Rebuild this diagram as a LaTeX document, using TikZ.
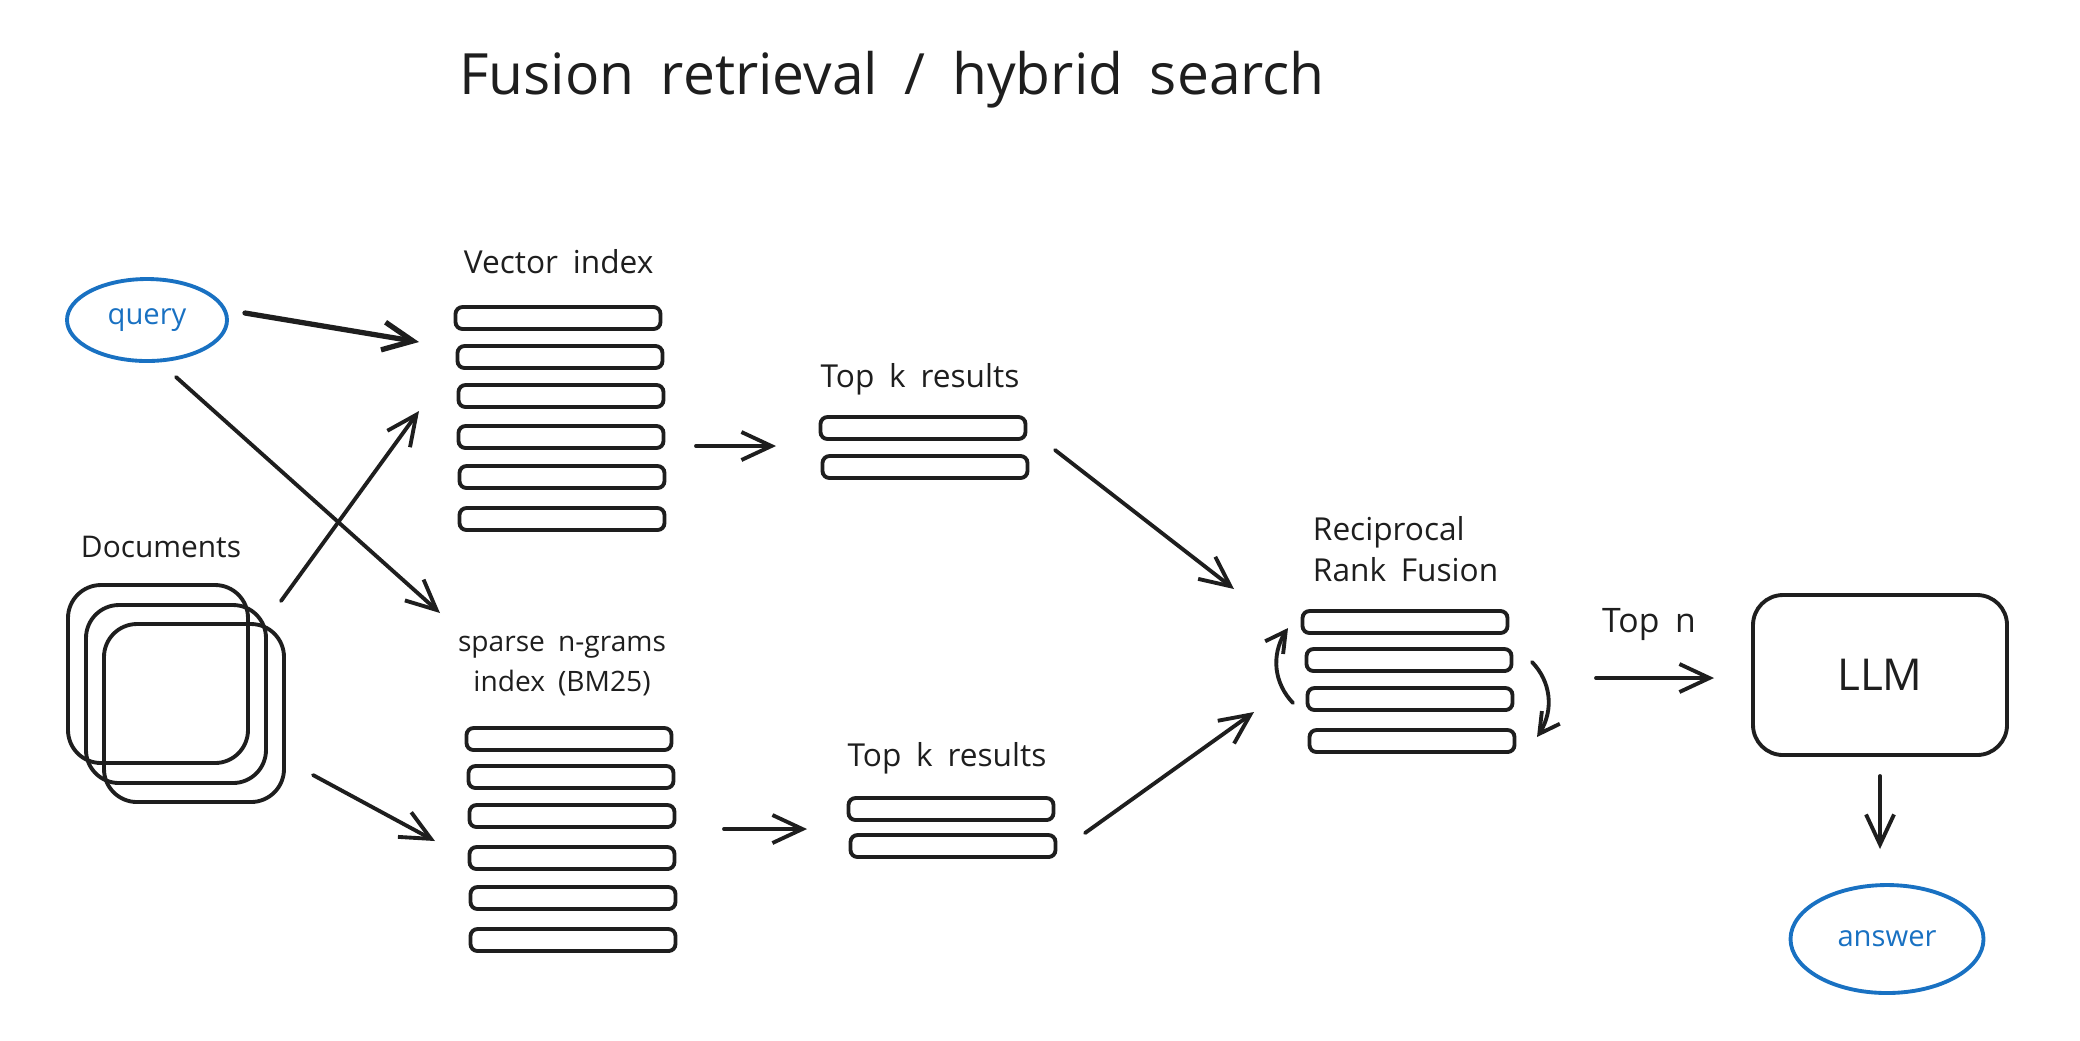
\documentclass[tikz,border=0pt]{standalone}
\usepackage{fontspec}
\setmainfont[WordSpace=1.8]{Open Sans}
\usetikzlibrary{arrows.meta}
\usetikzlibrary{bending}
\usetikzlibrary{shapes.geometric}

\definecolor{ink}{HTML}{1E1E1E}
\definecolor{inkblue}{HTML}{1971C2}

\begin{document}
\begin{tikzpicture}[x=0.1mm,y=-0.1mm,line width=1.1pt,color=ink,
    bar/.style={draw,rounded corners=0.7mm,minimum width=20.5mm,minimum height=2.2mm,inner sep=0pt},
    docbox/.style={draw,rounded corners=3.3mm,minimum width=18mm,minimum height=17.8mm,inner sep=0pt},
    bubble/.style={draw=inkblue,text=inkblue,ellipse,inner sep=0pt,font=\fontsize{8.3}{10}\selectfont},
    lbl/.style={inner sep=0pt,font=\fontsize{9}{11.5}\selectfont},
    arr/.style={-{Straight Barb[length=3mm,width=2.8mm]},line cap=round}]
            \useasboundingbox (0,0) rectangle (2080,1040);

            \node[font=\fontsize{16.2}{19}\selectfont] (title) at (892,80) {Fusion retrieval / hybrid search};

            % inputs
            \node[bubble,minimum width=16mm,minimum height=8.2mm] (query) at (147,320) {query};
            \node[lbl,font=\fontsize{8.5}{11}\selectfont] (docs) at (161,547) {Documents};
            \node[docbox] (doc1) at (158,674) {};
            \node[docbox] (doc2) at (176,694) {};
            \node[docbox] (doc3) at (194,713) {};

            % the two indexes
            \node[lbl,anchor=west] (vec) at (462,262) {Vector index};
            \foreach \i/\x/\y in {1/558/318,2/560/357,3/561/396,4/561/437,5/562/477,6/562/519}
                \node[bar] (v\i) at (\x,\y) {};
            \node[lbl,align=center,font=\fontsize{8}{11.5}\selectfont] (bm) at (562,666) {sparse n-grams\\ index (BM25)};
            \foreach \i/\x/\y in {1/569/739,2/571/777,3/572/816,4/572/858,5/573/898,6/573/940}
                \node[bar] (b\i) at (\x,\y) {};

            % top k
            \node[lbl] (topa) at (920,379) {Top k results};
            \node[bar] (ta1) at (923,428) {};
            \node[bar] (ta2) at (925,467) {};
            \node[lbl] (topb) at (947,758) {Top k results};
            \node[bar] (tb1) at (951,809) {};
            \node[bar] (tb2) at (953,846) {};

            % fusion
            \node[lbl,align=left,anchor=west] (rrf) at (1311,549) {Reciprocal\\Rank Fusion};
            \foreach \i/\x/\y in {1/1405/622,2/1409/660,3/1410/699,4/1412/741}
                \node[bar] (r\i) at (\x,\y) {};

            \node[lbl,font=\fontsize{9.6}{11.5}\selectfont] (topn) at (1649,624) {Top n};
            \node[draw,rounded corners=3mm,minimum width=25.4mm,minimum height=16mm,
                font=\fontsize{12.5}{14}\selectfont] (llm) at (1880,675) {LLM};
            \node[bubble,minimum width=19.3mm,minimum height=10.8mm] (answer) at (1887,939) {answer};

            % arrow ends
            \coordinate (qa) at (245,313);
            \coordinate (qb) at (176,377);
            \coordinate (da) at (281,601);
            \coordinate (db) at (313,775);
            \coordinate (va) at (419,342);
            \coordinate (vb) at (419,411);
            \coordinate (ba) at (440,613);
            \coordinate (bb) at (435,841);
            \coordinate (vo) at (696,446);
            \coordinate (ti) at (776,446);
            \coordinate (bo) at (724,829);
            \coordinate (tj) at (807,829);
            \coordinate (to) at (1055,450);
            \coordinate (tp) at (1085,833);
            \coordinate (ra) at (1234,589);
            \coordinate (rb) at (1254,712);
            \coordinate (ro) at (1596,678);
            \coordinate (li) at (1714,678);
            \coordinate (lo) at (1880,776);
            \coordinate (ai) at (1880,849);
            \coordinate (ua) at (1293,703);
            \coordinate (ub) at (1288,628);
            \coordinate (wa) at (1532,662);
            \coordinate (wb) at (1537,737);

            \draw[arr,line width=1.5pt] (qa) -- (va);
            \draw[arr] (qb) -- (ba);
            \draw[arr] (da) -- (vb);
            \draw[arr] (db) -- (bb);
            \draw[arr] (vo) -- (ti);
            \draw[arr] (bo) -- (tj);
            \draw[arr] (to) -- (ra);
            \draw[arr] (tp) -- (rb);
            \draw[arr] (ro) -- (li);
            \draw[arr] (lo) -- (ai);
            \draw[-{Straight Barb[length=2mm,width=2.2mm]},line cap=round] (ua) to[bend left=40] (ub);
            \draw[-{Straight Barb[length=2mm,width=2.2mm]},line cap=round] (wa) to[bend left=40] (wb);
        \end{tikzpicture}
\end{document}
